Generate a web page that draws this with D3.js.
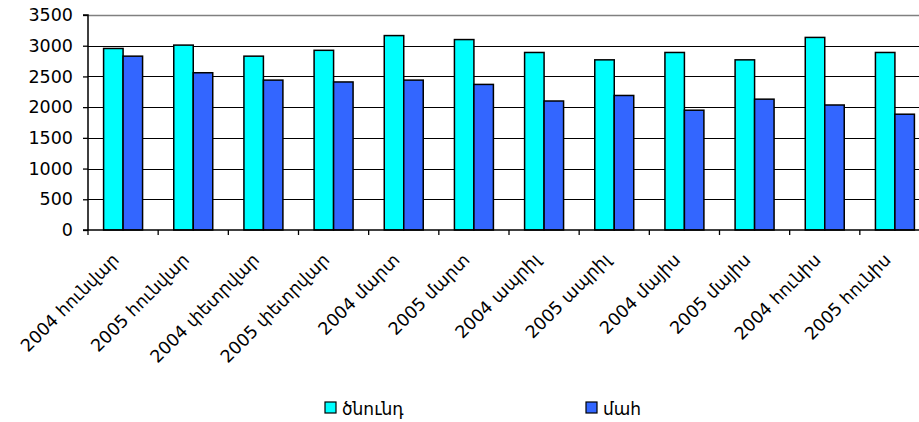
<!DOCTYPE html>
<html>
<head>
<meta charset="utf-8">
<script src="https://cdn.jsdelivr.net/npm/d3@7"></script>
<style>
  body { margin: 0; background: #fff; }
  text { font-family: "DejaVu Sans", "Liberation Sans", Arial, sans-serif; fill: #000; }
</style>
</head>
<body>
<div class="chart"></div>
<script>
var svgWidth = 919;
var svgHeight = 422;

// data
var months = ["2004 հունվար", "2005 հունվար", "2004 փետրվար", "2005 փետրվար",
    "2004 մարտ", "2005 մարտ", "2004 ապրիլ", "2005 ապրիլ",
    "2004 մայիս", "2005 մայիս", "2004 հունիս", "2005 հունիս"];
var births = [2955, 3010, 2830, 2925, 3165, 3100, 2890, 2770, 2890, 2770, 3135, 2890];
var deaths = [2830, 2560, 2440, 2410, 2440, 2370, 2100, 2190, 1950, 2130, 2035, 1885];
var seriesNames = ["ծնունդ", "մահ"];
var seriesColors = ["#00ffff", "#3366ff"];
var yTicks = [0, 500, 1000, 1500, 2000, 2500, 3000, 3500];

var plot = { left: 88, top: 15, right: 930, bottom: 230 };

var svg = d3.select(".chart")
    .append("svg")
    .attr("width", svgWidth)
    .attr("height", svgHeight);

var x = d3.scaleBand()
    .domain(months)
    .range([plot.left, plot.right])
    .padding(0);

var xSeries = d3.scaleBand()
    .domain([0, 1])
    .range([0, x.bandwidth()])
    .paddingInner(0)
    .paddingOuter(0.8);

var y = d3.scaleLinear()
    .domain([0, 3500])
    .range([plot.bottom, plot.top]);

// gridlines
svg.append("g")
    .selectAll("line")
    .data(yTicks.filter(d => d > 0))
    .enter()
    .append("line")
    .attr("x1", plot.left)
    .attr("x2", plot.right)
    .attr("y1", d => Math.round(y(d)) + 0.5)
    .attr("y2", d => Math.round(y(d)) + 0.5)
    .attr("stroke", d => d === 3500 ? "#808080" : "#000")
    .attr("stroke-width", d => d === 3500 ? 1.5 : 1.2);

// bars
var groups = svg.append("g")
    .selectAll("g")
    .data(months)
    .enter()
    .append("g")
    .attr("transform", d => `translate(${x(d)},0)`);

groups.selectAll("rect")
    .data((d, i) => [births[i], deaths[i]])
    .enter()
    .append("rect")
    .attr("x", (d, j) => xSeries(j))
    .attr("y", d => y(d))
    .attr("width", xSeries.bandwidth())
    .attr("height", d => y(0) - y(d))
    .attr("fill", (d, j) => seriesColors[j])
    .attr("stroke", "#000")
    .attr("stroke-width", 1.5);

// y axis
var leftAxis = d3.axisLeft(y)
    .tickValues(yTicks)
    .tickFormat(d3.format("d"))
    .tickSize(5)
    .tickPadding(10);

var yAxis = svg.append("g")
    .attr("transform", `translate(${plot.left},0)`)
    .call(leftAxis);
yAxis.select(".domain").attr("stroke", "#000").attr("stroke-width", 1.5)
    .attr("d", `M-5,${plot.top}H0V${plot.bottom}`);
yAxis.selectAll(".tick line").attr("stroke", "#000").attr("stroke-width", 1.3);
yAxis.selectAll(".tick text")
    .attr("font-size", 17.5)
    .attr("font-family", null);

// x axis line and boundary ticks
svg.append("line")
    .attr("x1", plot.left - 5)
    .attr("x2", plot.right)
    .attr("y1", plot.bottom)
    .attr("y2", plot.bottom)
    .attr("stroke", "#000")
    .attr("stroke-width", 1.5);

svg.append("g")
    .selectAll("line")
    .data(months)
    .enter()
    .append("line")
    .attr("x1", d => x(d))
    .attr("x2", d => x(d))
    .attr("y1", plot.bottom)
    .attr("y2", plot.bottom + 5)
    .attr("stroke", "#000")
    .attr("stroke-width", 1.3);

var bottomAxis = d3.axisBottom(x).tickSize(0).tickPadding(0);
var xAxis = svg.append("g")
    .attr("transform", `translate(0,${plot.bottom})`)
    .call(bottomAxis);
xAxis.select(".domain").remove();
xAxis.selectAll(".tick text")
    .attr("font-size", 17.5)
    .attr("font-family", null)
    .attr("text-anchor", "end")
    .attr("dy", null)
    .attr("y", 0)
    .attr("transform", "translate(-3,31) rotate(-45)");

// legend
var legendX = [325, 586];
var legend = svg.append("g")
    .selectAll("g")
    .data(seriesNames)
    .enter()
    .append("g")
    .attr("transform", (d, i) => `translate(${legendX[i]},402)`);

legend.append("rect")
    .attr("width", 11)
    .attr("height", 11)
    .attr("fill", (d, i) => seriesColors[i])
    .attr("stroke", "#000")
    .attr("stroke-width", 1.2);

legend.append("text")
    .attr("x", 17)
    .attr("y", 13)
    .attr("font-size", 17)
    .text(d => d);
</script>
</body>
</html>
